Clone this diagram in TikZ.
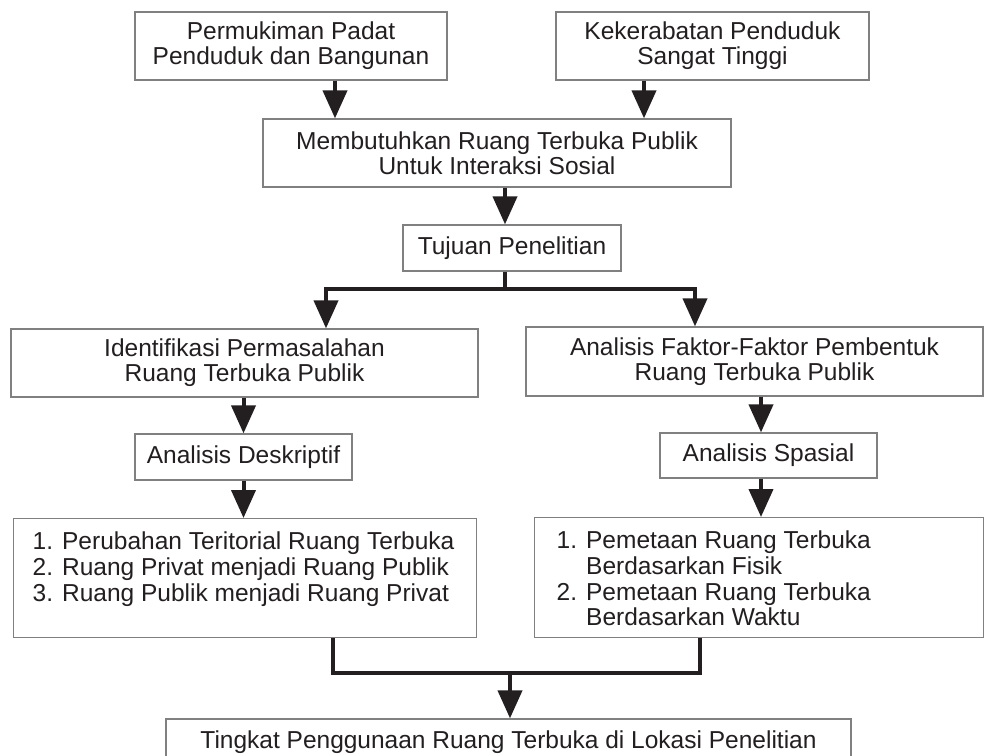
\documentclass[tikz,border=0pt]{standalone}
\usepackage{fontspec}
\setmainfont{Liberation Sans}
\usepackage{tikz}
\usetikzlibrary{arrows.meta,positioning,calc}
\usepackage{xcolor}
\definecolor{framegray}{RGB}{128,128,128}
\definecolor{inkdark}{RGB}{35,31,32}
\tikzset{
    flowbox/.style={rectangle, draw=framegray, line width=1.3pt, fill=white, inner sep=0pt, align=center, text=inkdark, font=\fontsize{24.5}{25.3}\selectfont},
    listbox/.style={flowbox, anchor=north west, inner xsep=19pt, inner ysep=13pt, align=left},
    flow/.style={line width=4pt, draw=inkdark, -{Triangle[length=28pt, width=24pt]}},
    joint/.style={line width=4pt, draw=inkdark},
}

\begin{document}
\begin{tikzpicture}[x=1pt, y=-1pt]
    \useasboundingbox (0,0) rectangle (987,755);

    \node[flowbox, minimum width=312pt, minimum height=68pt] (permukiman) at (291,46) {Permukiman Padat\\Penduduk dan Bangunan};
    \node[flowbox, minimum width=313pt, minimum height=68pt] (kekerabatan) at (712.5,46) {Kekerabatan Penduduk\\Sangat Tinggi};
    \node[flowbox, minimum width=468pt, minimum height=68pt] (butuh) at (497,153) {Membutuhkan Ruang Terbuka Publik\\Untuk Interaksi Sosial};
    \node[flowbox, minimum width=218pt, minimum height=46pt] (tujuan) at (512,248) {Tujuan Penelitian};
    \node[flowbox, minimum width=467pt, minimum height=68pt] (identifikasi) at (244.5,363) {Identifikasi Permasalahan\\Ruang Terbuka Publik};
    \node[flowbox, minimum width=457pt, minimum height=69pt] (faktor) at (754.5,361.5) {Analisis Faktor-Faktor Pembentuk\\Ruang Terbuka Publik};
    \node[flowbox, minimum width=217pt, minimum height=46pt] (deskriptif) at (243.5,457) {Analisis Deskriptif};
    \node[flowbox, minimum width=217pt, minimum height=45pt] (spasial) at (768.5,455.5) {Analisis Spasial};
    \node[listbox] (perubahan) at (13,518) {\begin{minipage}[c][93pt][t]{425pt}\raggedright
        \strut 1. Perubahan Teritorial Ruang Terbuka\\
        2. Ruang Privat menjadi Ruang Publik\\
        3. Ruang Publik menjadi Ruang Privat\end{minipage}};
    \node[listbox, inner xsep=22pt] (pemetaan) at (534,517) {\begin{minipage}[c][94pt][t]{405pt}\raggedright
        \strut 1. Pemetaan Ruang Terbuka\\
        \hphantom{1. }Berdasarkan Fisik\\
        2. Pemetaan Ruang Terbuka\\
        \hphantom{2. }Berdasarkan Waktu\end{minipage}};
    \node[flowbox, minimum width=685pt, minimum height=46pt] (tingkat) at (508.5,742) {Tingkat Penggunaan Ruang Terbuka di Lokasi Penelitian};

    % top part
    \coordinate (a1) at ([xshift=44pt]permukiman.south);
    \coordinate (a2) at ([xshift=-68.5pt]kekerabatan.south);
    \coordinate (a3) at ([xshift=8pt]butuh.south);
    \draw[flow] (a1) -- (a1 |- butuh.north);
    \draw[flow] (a2) -- (a2 |- butuh.north);
    \draw[flow] (a3) -- (a3 |- tujuan.north);

    % split into the two analyses
    \coordinate (split) at (505,289);
    \draw[joint] (split |- tujuan.south) -- (split);
    \draw[flow] (split) -| ([xshift=81.5pt]identifikasi.north);
    \draw[flow] (split) -| ([xshift=-59.5pt]faktor.north);

    \draw[flow] (deskriptif.north |- identifikasi.south) -- (deskriptif.north);
    \draw[flow] (deskriptif.south) -- (deskriptif.south |- perubahan.north);
    \coordinate (r1) at ([xshift=-7.5pt]spasial.north);
    \coordinate (r2) at ([xshift=-7.5pt]spasial.south);
    \draw[flow] (r1 |- faktor.south) -- (r1);
    \draw[flow] (r2) -- (r2 |- pemetaan.north);

    % merge
    \coordinate (merge) at (510,673);
    \coordinate (m1) at ([xshift=87.5pt]perubahan.south);
    \coordinate (m2) at ([xshift=-59.5pt]pemetaan.south);
    \draw[joint] (m1) -- (m1 |- merge) -- (m2 |- merge) -- (m2);
    \draw[flow] (merge) -- (merge |- tingkat.north);
\end{tikzpicture}
\end{document}
